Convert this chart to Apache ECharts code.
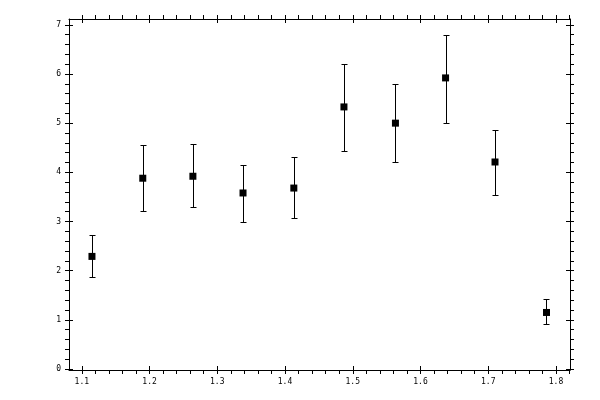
<!DOCTYPE html>
<html><head><meta charset="utf-8">
<script src="https://cdn.jsdelivr.net/npm/echarts@6/dist/echarts.min.js"></script>
<style>html,body{margin:0;padding:0;background:#fff}#c{width:600px;height:400px}</style>
</head><body><div id="c"></div>
<script>
const xValues = [1.115, 1.190, 1.264, 1.338, 1.413, 1.487, 1.563, 1.637, 1.710, 1.786];
const yValues = [2.29, 3.88, 3.92, 3.58, 3.68, 5.33, 5.00, 5.92, 4.21, 1.15];
const yLower  = [1.87, 3.22, 3.29, 2.99, 3.07, 4.43, 4.21, 5.00, 3.53, 0.91];
const yUpper  = [2.72, 4.55, 4.57, 4.15, 4.31, 6.20, 5.79, 6.80, 4.86, 1.42];
const xTicks = [1.1, 1.2, 1.3, 1.4, 1.5, 1.6, 1.7, 1.8];
const yTicks = [0, 1, 2, 3, 4, 5, 6, 7];

const xMin = 1.0811, xMax = 1.8207, yMin = -0.02, yMax = 7.118;
const FONT = 'DejaVu Sans Mono';

function mkAxis(kind, gridIndex, position, inside, showLabel) {
  const isX = kind === 'x';
  return {
    type: 'value', gridIndex: gridIndex, position: position,
    min: isX ? xMin : yMin, max: isX ? xMax : yMax,
    splitNumber: 5,
    axisLine: { show: !inside, onZero: false, lineStyle: { color: '#000', width: 1 } },
    axisTick: { show: true, inside: inside, length: 4, customValues: isX ? xTicks : yTicks,
                lineStyle: { color: '#000', width: 1 } },
    minorTick: { show: !inside, splitNumber: 5, length: 4, lineStyle: { color: '#000', width: 1 } },
    splitLine: { show: false },
    minorSplitLine: { show: false },
    axisLabel: {
      show: showLabel, customValues: isX ? xTicks : yTicks,
      fontFamily: FONT, fontSize: 8, color: '#000', margin: 8
    }
  };
}

const gridBox = { left: 69, right: 30, top: 19, bottom: 30, containLabel: false };
const chart = echarts.init(document.getElementById('c'), null, { renderer: 'canvas' });
chart.setOption({
  animation: false,
  backgroundColor: '#fff',
  grid: [Object.assign({}, gridBox), Object.assign({}, gridBox)],
  xAxis: [
    mkAxis('x', 0, 'bottom', false, true),
    mkAxis('x', 0, 'top', false, false),
    mkAxis('x', 1, 'bottom', true, false),
    mkAxis('x', 1, 'top', true, false)
  ],
  yAxis: [
    mkAxis('y', 0, 'left', false, true),
    mkAxis('y', 0, 'right', false, false),
    mkAxis('y', 1, 'left', true, false),
    mkAxis('y', 1, 'right', true, false)
  ],
  series: [
    {
      type: 'custom',
      xAxisIndex: 0, yAxisIndex: 0,
      data: xValues.map((x, i) => [x, yLower[i], yUpper[i]]),
      renderItem: function (params, api) {
        const x = api.value(0);
        const lo = api.coord([x, api.value(1)]);
        const hi = api.coord([x, api.value(2)]);
        const cx = Math.round(lo[0]) + 0.5;
        const yl = Math.round(lo[1]) + 0.5, yh = Math.round(hi[1]) + 0.5;
        const w = 3;
        const st = { stroke: '#000', lineWidth: 1 };
        return {
          type: 'group',
          children: [
            { type: 'line', shape: { x1: cx, y1: yl, x2: cx, y2: yh }, style: st },
            { type: 'line', shape: { x1: cx - w, y1: yl, x2: cx + w, y2: yl }, style: st },
            { type: 'line', shape: { x1: cx - w, y1: yh, x2: cx + w, y2: yh }, style: st }
          ]
        };
      },
      z: 2
    },
    {
      type: 'scatter',
      xAxisIndex: 0, yAxisIndex: 0,
      symbol: 'rect', symbolSize: 7,
      itemStyle: { color: '#000', opacity: 1 },
      data: xValues.map((x, i) => [x, yValues[i]]),
      z: 3
    }
  ]
});
</script>
</body></html>
